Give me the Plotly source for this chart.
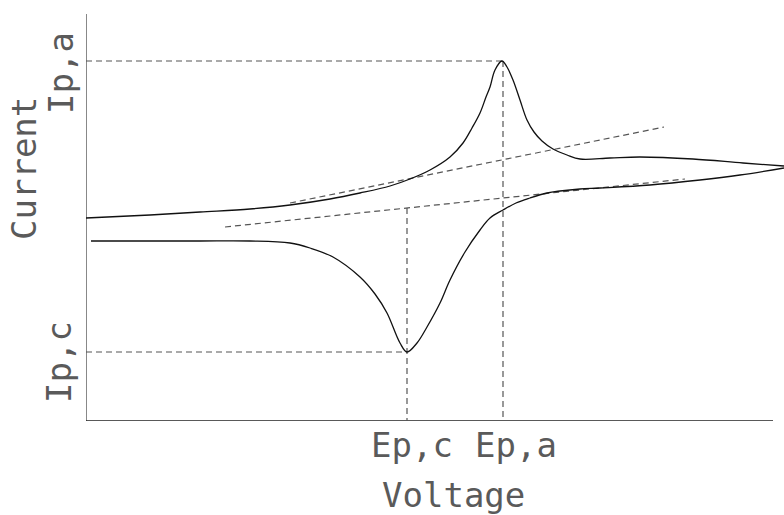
import plotly.graph_objects as go

# Forward (anodic) scan: voltage and current, arbitrary units
fwd_v = [0, 64, 114, 164, 204, 244, 274, 304, 324, 344, 364, 377, 386, 394, 400,
         404, 409, 416, 421, 427, 434, 441, 448, 456, 467, 481, 494, 524, 554, 607, 657, 698]
fwd_i = [203, 206, 209, 212, 216, 222, 228, 235, 242, 251, 264, 278, 293, 308, 324,
         334, 351, 360, 354, 341, 321, 301, 289, 280, 272, 266, 262, 263, 264, 262, 258, 255]

# Reverse (cathodic) scan
rev_v = [698, 654, 614, 564, 514, 494, 474, 461, 444, 430, 417, 404, 394, 379, 364, 354, 341,
         331, 321, 314, 301, 289, 274, 247, 224, 204, 164, 114, 64, 5]
rev_i = [253, 246, 241, 236, 233, 232, 230, 228, 223, 218, 211, 203, 191, 169, 141, 118, 94,
         78, 69, 78, 108, 127, 144, 164, 173, 178, 180, 180, 180, 180]

# Peak positions
ep_a, ip_a = 417, 360
ep_c, ip_c = 321, 69

# Extrapolated baselines (start, end)
base_a_v = [204, 578]
base_a_i = [218, 294]
base_c_v = [139, 599]
base_c_i = [194, 242]

# Axis extents and plotted range
v_axis_end = 687
i_axis_end = 407
v_range = [0, 698]
i_range = [0, 407]


def base_c_at(v):
    return base_c_i[0] + (v - base_c_v[0]) * (base_c_i[1] - base_c_i[0]) / (base_c_v[1] - base_c_v[0])


def px(v):
    return (v - v_range[0]) / (v_range[1] - v_range[0])


def py(i):
    return (i - i_range[0]) / (i_range[1] - i_range[0])


curve = dict(color="#111111", width=1.3)
dash = dict(color="#555555", width=1.2, dash="6px,4px")

fig = go.Figure()

# axes
fig.add_trace(go.Scatter(x=[0, 0], y=[0, i_axis_end], mode="lines",
                         line=dict(color="#6a6a6a", width=1.6), hoverinfo="skip"))
fig.add_trace(go.Scatter(x=[0, v_axis_end], y=[0, 0], mode="lines",
                         line=dict(color="#222222", width=1.6), hoverinfo="skip"))

# peak guide lines
fig.add_trace(go.Scatter(x=[0, ep_a], y=[ip_a, ip_a], mode="lines", line=dash))
fig.add_trace(go.Scatter(x=[ep_a, ep_a], y=[ip_a, 0], mode="lines", line=dash))
fig.add_trace(go.Scatter(x=[0, ep_c], y=[ip_c, ip_c], mode="lines", line=dash))
fig.add_trace(go.Scatter(x=[ep_c, ep_c], y=[base_c_at(ep_c), 0], mode="lines", line=dash))

# baselines
fig.add_trace(go.Scatter(x=base_a_v, y=base_a_i, mode="lines", line=dash))
fig.add_trace(go.Scatter(x=base_c_v, y=base_c_i, mode="lines", line=dash))

# voltammogram
fig.add_trace(go.Scatter(x=fwd_v, y=fwd_i, mode="lines", line=curve,
                         line_shape="spline", line_smoothing=1.0))
fig.add_trace(go.Scatter(x=rev_v, y=rev_i, mode="lines", line=curve,
                         line_shape="spline", line_smoothing=1.0))

font = dict(family="DejaVu Sans Mono", size=34, color="#5a5a5a")

labels = [
    ("Current", px(-62), py(252), -90),
    ("Ip,a", px(-25), py(ip_a - 12), -90),
    ("Ip,c", px(-27), py(ip_c - 10), -90),
    ("Ep,c", px(ep_c + 5), py(-24), 0),
    ("Ep,a", px(ep_a + 13), py(-24), 0),
    ("Voltage", px(368), py(-74), 0),
]
for text, x, y, ang in labels:
    fig.add_annotation(x=x, y=y, xref="paper", yref="paper", text=text, showarrow=False,
                       textangle=ang, font=font, xanchor="center", yanchor="middle",
                       borderpad=0)

fig.update_layout(
    width=784, height=515,
    margin=dict(l=86, r=0, t=14, b=94),
    paper_bgcolor="white", plot_bgcolor="white",
    showlegend=False,
    xaxis=dict(range=v_range, visible=False, fixedrange=True),
    yaxis=dict(range=i_range, visible=False, fixedrange=True),
)

fig.write_html("out.html")
